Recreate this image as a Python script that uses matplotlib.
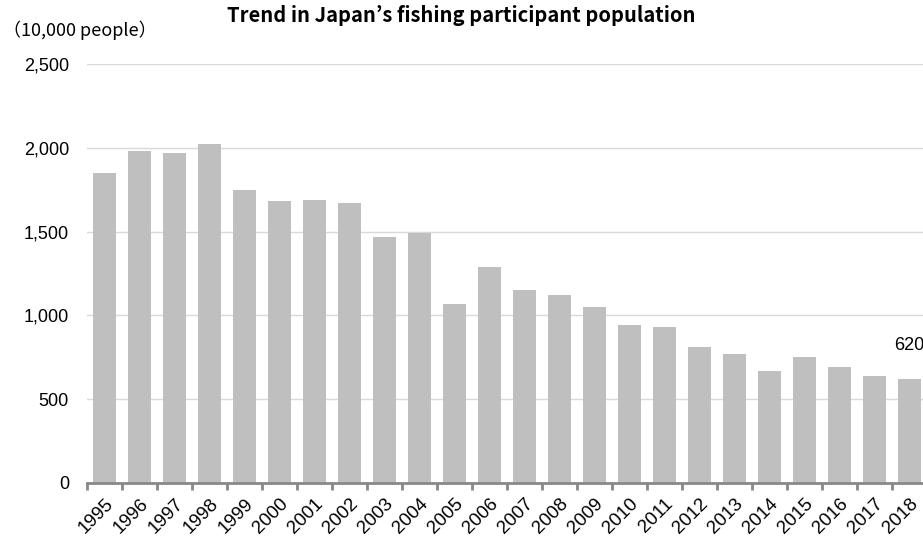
import matplotlib.pyplot as plt
from matplotlib.ticker import FuncFormatter

years = [str(y) for y in range(1995, 2019)]
participants = [1850, 1980, 1970, 2020, 1750, 1680, 1690, 1670, 1470, 1490,
                1070, 1290, 1150, 1120, 1050, 940, 930, 810, 770, 670,
                750, 690, 640, 620]
y_ticks = [0, 500, 1000, 1500, 2000, 2500]

plt.rcParams['font.family'] = 'sans-serif'
plt.rcParams['font.sans-serif'] = ['Liberation Sans']

fig = plt.figure(figsize=(9.23, 5.39), dpi=100)
ax = fig.add_axes([0.0943, 0.1039, 0.910, 0.7774])

x = list(range(len(years)))
ax.bar(x, participants, width=0.65, color="#bfbfbf", zorder=2)

ax.set_xlim(-0.5, len(years) - 0.5)
ax.set_ylim(0, 2500)
ax.set_yticks(y_ticks)
ax.yaxis.set_major_formatter(FuncFormatter(lambda v, p: f"{int(v):,}"))
ax.grid(axis="y", color="#d9d9d9", linewidth=1, zorder=0)
ax.tick_params(axis="y", length=0, labelsize=13, pad=13)

# category boundary ticks on the x axis
ax.set_xticks([i - 0.5 for i in x], minor=True)
ax.set_xticks(x)
ax.set_xticklabels(years, rotation=45, ha="right", rotation_mode="anchor", fontsize=13.5)
ax.tick_params(axis="x", which="major", length=0, pad=9)
ax.tick_params(axis="x", which="minor", length=5, width=2, color="#888888")

for side in ["top", "right", "left"]:
    ax.spines[side].set_visible(False)
ax.spines["bottom"].set_color("#888888")
ax.spines["bottom"].set_linewidth(2)

ax.annotate(f"{participants[-1]}", (x[-1], participants[-1]), xytext=(0, 18),
            textcoords="offset points", ha="center", va="bottom", fontsize=13)

fig.text(0.5, 0.972, "Trend in Japan’s fishing participant population",
         ha="center", va="center", fontsize=14.5, fontweight="bold",
         family=["Noto Sans CJK JP", "DejaVu Sans"])
fig.text(0.003, 0.944, "（10,000 people）", ha="left", va="center", fontsize=13,
         family=["Noto Sans CJK JP", "DejaVu Sans"])

fig.savefig("out.png", dpi=100)
